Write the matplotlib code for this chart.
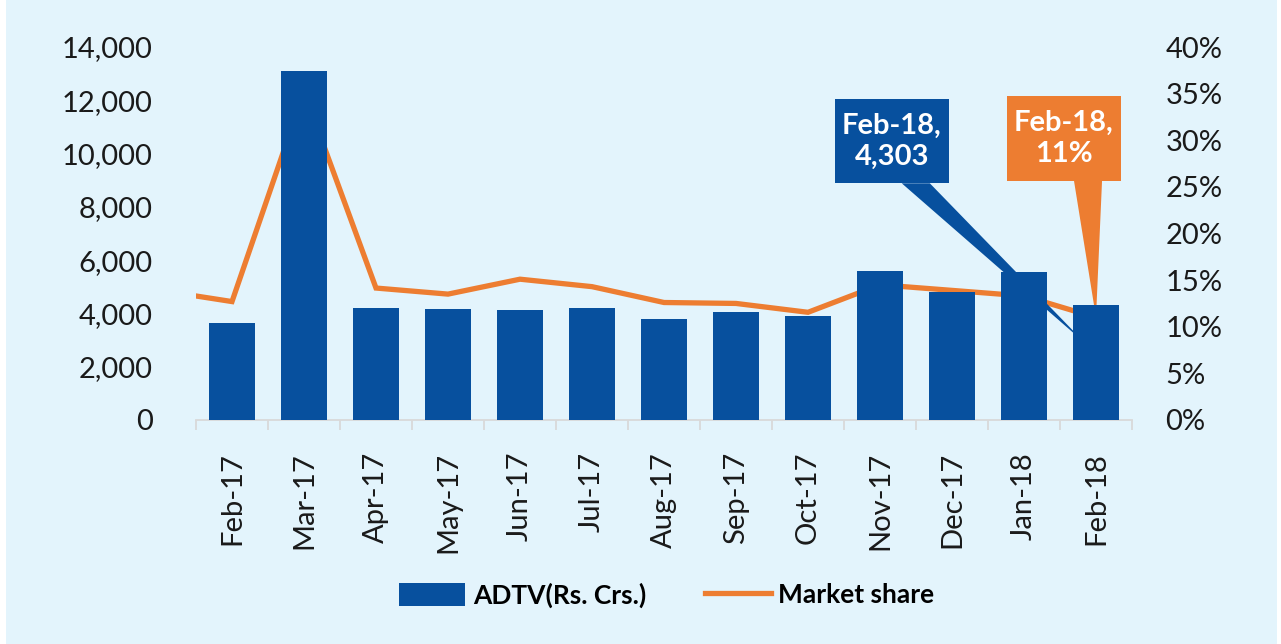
import matplotlib
matplotlib.use("Agg")
import matplotlib.pyplot as plt
import numpy as np
from matplotlib.patches import Rectangle, Polygon, Patch
from matplotlib.lines import Line2D
from matplotlib.ticker import FuncFormatter, PercentFormatter

plt.rcParams["font.family"] = ["Lato", "DejaVu Sans"]

# data
months = ["Feb-17", "Mar-17", "Apr-17", "May-17", "Jun-17", "Jul-17", "Aug-17",
          "Sep-17", "Oct-17", "Nov-17", "Dec-17", "Jan-18", "Feb-18"]
adtv = [3630, 13110, 4190, 4155, 4115, 4220, 3785, 4045, 3910, 5580, 4800, 5570, 4303]
# market share starts one month earlier (Jan-17), only its slope into Feb-17 is visible
share_months = ["Jan-17"] + months
share = [0.139, 0.127, 0.352, 0.1415, 0.135, 0.151, 0.143, 0.126, 0.125, 0.1155,
         0.145, 0.139, 0.133, 0.11]

BG = "#E3F4FC"
BLUE = "#07509E"
ORANGE = "#ED7D31"
TEXT = "#1A1A1A"
GRID = "#D9D9D9"

W, H = 1281, 644
fig = plt.figure(figsize=(W / 100, H / 100), dpi=100)
fig.patch.set_facecolor("white")
fig.add_artist(Rectangle((6 / W, 0), (1277 - 6) / W, 1, transform=fig.transFigure,
                         facecolor=BG, edgecolor="none", zorder=-10))

ax = fig.add_axes([196 / W, 1 - 420 / H, (1132 - 196) / W, (420 - 47) / H])
ax2 = ax.twinx()
ax.set_zorder(ax2.get_zorder() + 1)
ax.patch.set_visible(False)
ax2.patch.set_visible(False)

x = np.arange(len(months))
ax.bar(x, adtv, width=0.65, color=BLUE, zorder=3)
xs = np.arange(len(share_months)) - 1
ax2.plot(xs, share, color=ORANGE, linewidth=3.8, solid_joinstyle="miter", zorder=2)

ax.set_xlim(-0.5, len(months) - 0.5)
ax.set_ylim(0, 14000)
ax2.set_ylim(0, 0.40)
ax.set_yticks(np.arange(0, 14001, 2000))
ax2.set_yticks(np.arange(0, 0.401, 0.05))
ax.yaxis.set_major_formatter(FuncFormatter(lambda v, p: f"{v:,.0f}"))
ax2.yaxis.set_major_formatter(PercentFormatter(1.0, decimals=0))

ax.set_xticks(x)
ax.set_xticklabels(months, rotation=90)
ax.set_xticks(np.arange(-0.5, len(months), 1), minor=True)
ax.tick_params(axis="x", which="major", length=0, pad=23, labelsize=21, labelcolor=TEXT)
ax.tick_params(axis="x", which="minor", length=7.5, width=1.3, color=GRID)
ax.tick_params(axis="y", length=0, pad=31, labelsize=21, labelcolor=TEXT)
ax2.tick_params(axis="y", length=0, pad=24, labelsize=21, labelcolor=TEXT)

for a in (ax, ax2):
    for s in ("top", "left", "right", "bottom"):
        a.spines[s].set_visible(False)
ax.spines["bottom"].set_visible(True)
ax.spines["bottom"].set_color(GRID)
ax.spines["bottom"].set_linewidth(1.3)


def to_axes(a, pt):
    return a.transAxes.inverted().transform(a.transData.transform(pt))


def callout(box, base, tip, color, text):
    x0, y0, x1, y1 = box
    ax2.add_patch(Polygon([(base[0], y0), (base[1], y0), tip], closed=True,
                          transform=ax2.transAxes, facecolor=color,
                          edgecolor="none", zorder=4, clip_on=False))
    ax2.add_patch(Rectangle((x0, y0), x1 - x0, y1 - y0, transform=ax2.transAxes,
                            facecolor=color, edgecolor="none", zorder=5, clip_on=False))
    ax2.text((x0 + x1) / 2, (y0 + y1) / 2, text, transform=ax2.transAxes,
             ha="center", va="center", color="white", fontsize=21,
             fontweight="bold", linespacing=1.22, zorder=6)


# blue callout for the ADTV point, orange one for the market share point
callout((0.6824, 0.6346, 0.8042, 0.8598), (0.754, 0.784), (0.950, 0.206), BLUE,
        f"{months[-1]},\n{adtv[-1]:,}")
callout((0.8665, 0.6416, 0.9882, 0.8686), (0.938, 0.968),
        tuple(to_axes(ax2, (x[-1], share[-1]))), ORANGE,
        f"{months[-1]},\n{share[-1]:.0%}")

handles = [Patch(facecolor=BLUE, edgecolor="none"),
           Line2D([0], [0], color=ORANGE, linewidth=3.8)]
fig.legend(handles, ["ADTV(Rs. Crs.)", "Market share"], loc="center",
           bbox_to_anchor=(667 / W, 1 - 595 / H), ncol=2, frameon=False,
           prop={"weight": "bold", "size": 19}, handlelength=2.5,
           handleheight=1.0, handletextpad=0.3, columnspacing=2.2)

fig.savefig("out.png", dpi=100, facecolor=fig.get_facecolor())
